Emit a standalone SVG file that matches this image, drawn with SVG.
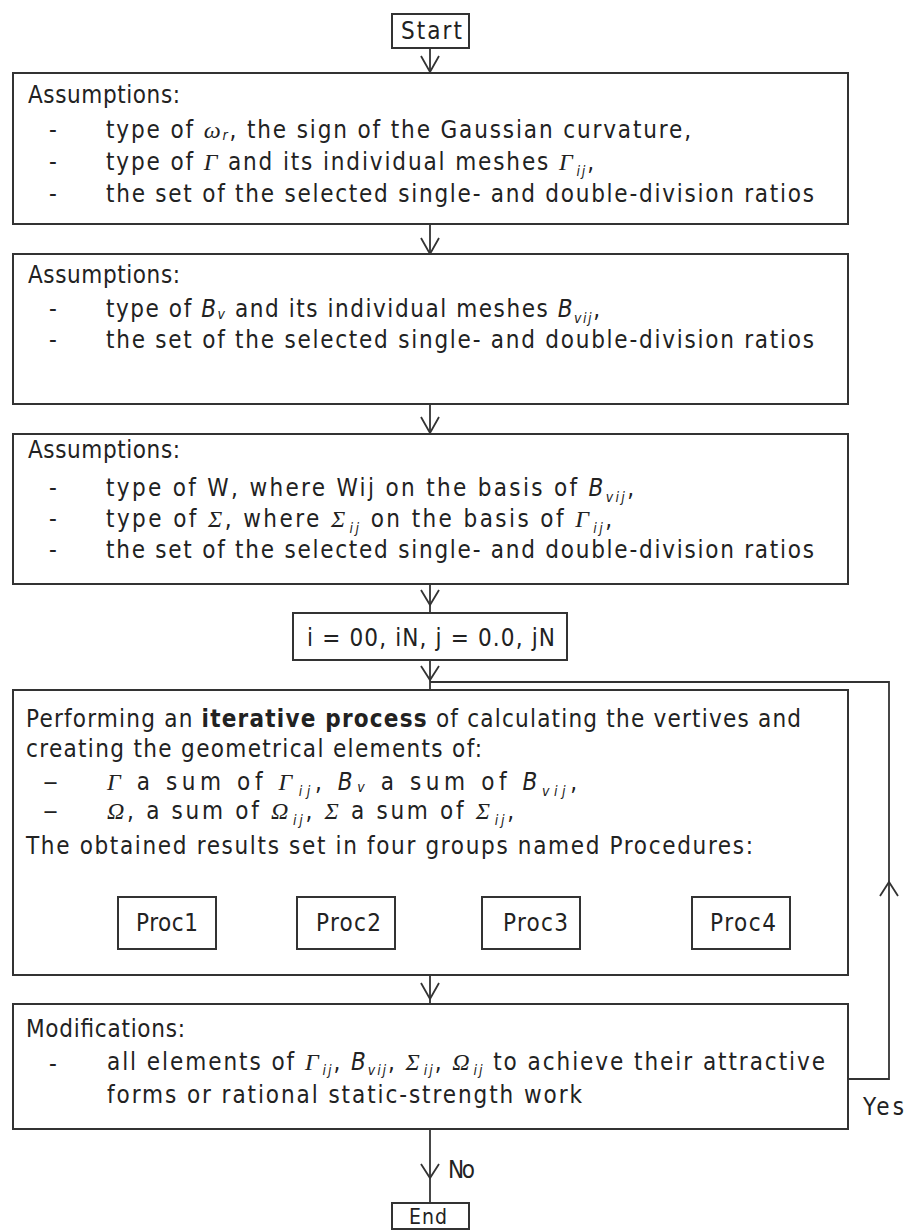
<svg xmlns="http://www.w3.org/2000/svg" width="905" height="1230" viewBox="0 0 905 1230">
<style>
.box{fill:#fff;stroke:#333;stroke-width:2}
.t{font-family:"Liberation Sans Narrow","DejaVu Sans Condensed","DejaVu Sans",sans-serif;font-stretch:condensed;font-size:24px;fill:#222}
.m{font-family:"Liberation Serif","DejaVu Serif",serif;font-style:italic}
.i{font-style:italic}
.s{font-size:14px;font-style:italic}
.c{fill:none;stroke:#333;stroke-width:1.8}
</style>
<rect width="905" height="1230" fill="#fff"/>
<g id="connectors" class="c">
<line x1="430" y1="48" x2="430" y2="73"/><polyline points="421,56 430,72 439,56"/>
<line x1="430" y1="224" x2="430" y2="254"/><polyline points="421,238 430,254 439,238"/>
<line x1="430" y1="404" x2="430" y2="434"/><polyline points="421,417 430,433 439,417"/>
<line x1="430" y1="584" x2="430" y2="613"/><polyline points="421,590 430,605 439,590"/>
<line x1="430" y1="660" x2="430" y2="690"/><polyline points="421,666 430,680 439,666"/>
<polyline points="848,1079 889,1079 889,682 430,682"/><polyline points="880,896 889,882 898,896"/>
<line x1="430" y1="975" x2="430" y2="1004"/><polyline points="421,983 430,999 439,983"/>
<line x1="430" y1="1129" x2="430" y2="1203"/><polyline points="421,1164 430,1178 439,1164"/>
</g>
<g id="labels" class="t">
<text x="863" y="1115" textLength="41" lengthAdjust="spacing">Yes</text>
<text x="448" y="1178" textLength="27" lengthAdjust="spacing">No</text>
</g>
<g id="start" class="t">
<rect class="box" x="392" y="14" width="77" height="34"/>
<text x="401" y="39" textLength="61" lengthAdjust="spacing">Start</text>
</g>
<g id="assumptions1" class="t">
<rect class="box" x="13" y="73" width="835" height="151"/>
<text x="28" y="103" textLength="152" lengthAdjust="spacing">Assumptions:</text>
<text x="49" y="138">-</text><text x="49" y="170">-</text><text x="49" y="202">-</text>
<text x="106" y="138" textLength="585" lengthAdjust="spacing">type of <tspan class="m">ω</tspan><tspan class="s" dy="2">r</tspan><tspan dy="-2">, the sign of the Gaussian curvature,</tspan></text>
<text x="106" y="170" textLength="488" lengthAdjust="spacing">type of <tspan class="m">Γ</tspan> and its individual meshes <tspan class="m">Γ</tspan><tspan class="s" dx="2" dy="6">ij</tspan><tspan dy="-6">,</tspan></text>
<text x="106" y="202" textLength="708" lengthAdjust="spacing">the set of the selected single- and double-division ratios</text>
</g>
<g id="assumptions2" class="t">
<rect class="box" x="13" y="254" width="835" height="150"/>
<text x="28" y="283" textLength="152" lengthAdjust="spacing">Assumptions:</text>
<text x="49" y="317">-</text><text x="49" y="348">-</text>
<text x="106" y="317" textLength="494" lengthAdjust="spacing">type of <tspan class="i">B</tspan><tspan class="s" dy="2">v</tspan><tspan dy="-2"> and its individual meshes </tspan><tspan class="i">B</tspan><tspan class="s" dy="6">vij</tspan><tspan dy="-6">,</tspan></text>
<text x="106" y="348" textLength="708" lengthAdjust="spacing">the set of the selected single- and double-division ratios</text>
</g>
<g id="assumptions3" class="t">
<rect class="box" x="13" y="434" width="835" height="150"/>
<text x="28" y="458" textLength="152" lengthAdjust="spacing">Assumptions:</text>
<text x="49" y="496">-</text><text x="49" y="527">-</text><text x="49" y="558">-</text>
<text x="106" y="496" textLength="528" lengthAdjust="spacing">type of W, where Wij on the basis of <tspan class="i">B</tspan><tspan class="s" dy="6">vij</tspan><tspan dy="-6">,</tspan></text>
<text x="106" y="527" textLength="506" lengthAdjust="spacing">type of <tspan class="m">Σ</tspan>, where <tspan class="m">Σ</tspan><tspan class="s" dx="2" dy="6">ij</tspan><tspan dy="-6"> on the basis of </tspan><tspan class="m">Γ</tspan><tspan class="s" dx="2" dy="6">ij</tspan><tspan dy="-6">,</tspan></text>
<text x="106" y="558" textLength="708" lengthAdjust="spacing">the set of the selected single- and double-division ratios</text>
</g>
<g id="init" class="t">
<rect class="box" x="293" y="613" width="274" height="47"/>
<text x="307" y="646" textLength="248" lengthAdjust="spacing">i = 00, iN, j = 0.0, jN</text>
</g>
<g id="iterative" class="t">
<rect class="box" x="13" y="690" width="835" height="285"/>
<text x="26" y="727" textLength="775" lengthAdjust="spacing">Performing an <tspan font-weight="bold">iterative process</tspan> of calculating the vertives and</text>
<text x="26" y="757" textLength="456" lengthAdjust="spacing">creating the geometrical elements of:</text>
<text x="43" y="790" textLength="15" lengthAdjust="spacingAndGlyphs">–</text>
<text x="43" y="819" textLength="15" lengthAdjust="spacingAndGlyphs">–</text>
<text x="107" y="790" textLength="470" lengthAdjust="spacing"><tspan class="m">Γ</tspan> a sum of <tspan class="m">Γ</tspan><tspan class="s" dx="2" dy="6">ij</tspan><tspan dy="-6">, </tspan><tspan class="i">B</tspan><tspan class="s" dy="2">v</tspan><tspan dy="-2"> a sum of </tspan><tspan class="i">B</tspan><tspan class="s" dy="6">vij</tspan><tspan dy="-6">,</tspan></text>
<text x="107" y="819" textLength="407" lengthAdjust="spacing"><tspan class="m">Ω</tspan>, a sum of <tspan class="m">Ω</tspan><tspan class="s" dx="2" dy="6">ij</tspan><tspan dy="-6">, </tspan><tspan class="m">Σ</tspan> a sum of <tspan class="m">Σ</tspan><tspan class="s" dx="2" dy="6">ij</tspan><tspan dy="-6">,</tspan></text>
<text x="26" y="854" textLength="727" lengthAdjust="spacing">The obtained results set in four groups named Procedures:</text>
</g>
<g id="proc1" class="t"><rect class="box" x="118" y="897" width="98" height="52"/><text x="136" y="931" textLength="62" lengthAdjust="spacing">Proc1</text></g>
<g id="proc2" class="t"><rect class="box" x="297" y="897" width="98" height="52"/><text x="316" y="931" textLength="65" lengthAdjust="spacing">Proc2</text></g>
<g id="proc3" class="t"><rect class="box" x="482" y="897" width="98" height="52"/><text x="503" y="931" textLength="65" lengthAdjust="spacing">Proc3</text></g>
<g id="proc4" class="t"><rect class="box" x="692" y="897" width="98" height="52"/><text x="710" y="931" textLength="66" lengthAdjust="spacing">Proc4</text></g>
<g id="modifications" class="t">
<rect class="box" x="13" y="1004" width="835" height="125"/>
<text x="26" y="1037" textLength="159" lengthAdjust="spacing">Modifications:</text>
<text x="49" y="1072">-</text>
<text x="107" y="1070" textLength="718" lengthAdjust="spacing">all elements of <tspan class="m">Γ</tspan><tspan class="s" dx="2" dy="5">ij</tspan><tspan dy="-5">, </tspan><tspan class="i">B</tspan><tspan class="s" dy="5">vij</tspan><tspan dy="-5">, </tspan><tspan class="m">Σ</tspan><tspan class="s" dx="2" dy="5">ij</tspan><tspan dy="-5">, </tspan><tspan class="m">Ω</tspan><tspan class="s" dx="2" dy="5">ij</tspan><tspan dy="-5"> to achieve their attractive</tspan></text>
<text x="107" y="1103" textLength="475" lengthAdjust="spacing">forms or rational static-strength work</text>
</g>
<g id="end" class="t">
<rect class="box" x="392" y="1203" width="77" height="26"/>
<text x="409" y="1224" font-size="21" textLength="38" lengthAdjust="spacing">End</text>
</g>
</svg>
